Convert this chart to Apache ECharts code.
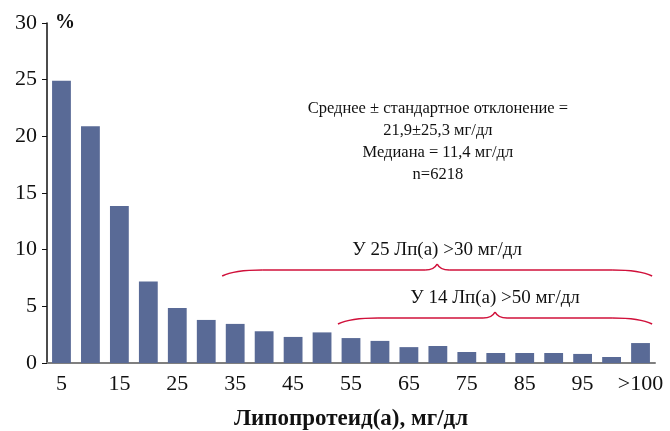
<!DOCTYPE html>
<html>
<head>
<meta charset="utf-8">
<script src="https://cdn.jsdelivr.net/npm/echarts@6/dist/echarts.min.js"></script>
<style>
    html, body { margin: 0; padding: 0; background: #fff; }
    #main { width: 670px; height: 431px; }
</style>
</head>
<body>
<div id="main"></div>
<script>
// данные
var categories = ['5', '10', '15', '20', '25', '30', '35', '40', '45', '50',
    '55', '60', '65', '70', '75', '80', '85', '90', '95', '100', '>100'];
var percents = [24.9, 20.9, 13.85, 7.2, 4.85, 3.8, 3.45, 2.8, 2.3, 2.7,
    2.2, 1.95, 1.4, 1.5, 0.97, 0.88, 0.88, 0.88, 0.8, 0.53, 1.76];
var yTicks = [0, 5, 10, 15, 20, 25, 30];
var statLines = ['Среднее ± стандартное отклонение =', '21,9±25,3 мг/дл', 'Медиана = 11,4 мг/дл', 'n=6218'];
var braces = [
    { from: 6, to: 20, text: 'У 25 Лп(а) >30 мг/дл', level: 8.2 },
    { from: 10, to: 20, text: 'У 14 Лп(а) >50 мг/дл', level: 4.0 }
];

var serif = '"Liberation Serif", "DejaVu Serif", serif';
var red = '#d0103a';

var myChart = echarts.init(document.getElementById('main'));
var option = {
    animation: false,
    grid: {
        left: 47,
        right: 15,
        top: 23,
        bottom: 68,
        outerBoundsMode: 'none',
        containLabel: false
    },
    xAxis: {
        type: 'category',
        data: categories,
        name: 'Липопротеид(а), мг/дл',
        nameLocation: 'middle',
        nameGap: 45,
        nameTextStyle: { fontFamily: serif, fontSize: 23, fontWeight: 'bold', color: '#111' },
        axisLine: { lineStyle: { color: '#7f7f7f', width: 2 } },
        axisTick: { show: false },
        axisLabel: {
            interval: 1,
            margin: 10,
            fontFamily: serif,
            fontSize: 22,
            color: '#111'
        }
    },
    yAxis: {
        type: 'value',
        min: 0,
        max: 30,
        interval: 5,
        name: '%',
        nameLocation: 'end',
        nameGap: 0,
        nameTextStyle: { fontFamily: serif, fontSize: 20, fontWeight: 'bold', color: '#111', align: 'left', padding: [0, 0, -10, 8] },
        splitLine: { show: false },
        axisLine: { show: true, lineStyle: { color: '#111', width: 1.5 } },
        axisTick: { show: true, length: 5, lineStyle: { color: '#111' } },
        axisLabel: {
            margin: 10,
            fontFamily: serif,
            fontSize: 22,
            color: '#111',
            formatter: function (v) { return yTicks.indexOf(v) >= 0 ? String(v) : ''; }
        }
    },
    series: [
        {
            type: 'bar',
            data: percents,
            barCategoryGap: '35%',
            itemStyle: { color: '#596a96' }
        }
    ]
};
myChart.setOption(option, true);

// фигурные скобки из кривых и отрезков
function braceParts(x0, x1, y, h) {
    var xm = (x0 + x1) / 2;
    var top = y - 6;
    var st = { stroke: red, lineWidth: 1.6, fill: null };
    return [
        { type: 'bezierCurve', shape: { x1: x0, y1: y + h, cpx1: x0 + 12, cpy1: y, x2: x0 + 40, y2: y }, style: st },
        { type: 'line', shape: { x1: x0 + 40, y1: y, x2: xm - 12, y2: y }, style: st },
        { type: 'bezierCurve', shape: { x1: xm - 12, y1: y, cpx1: xm - 3, cpy1: y, x2: xm, y2: top }, style: st },
        { type: 'bezierCurve', shape: { x1: xm, y1: top, cpx1: xm + 3, cpy1: y, x2: xm + 12, y2: y }, style: st },
        { type: 'line', shape: { x1: xm + 12, y1: y, x2: x1 - 40, y2: y }, style: st },
        { type: 'bezierCurve', shape: { x1: x1 - 40, y1: y, cpx1: x1 - 12, cpy1: y, x2: x1, y2: y + h }, style: st }
    ];
}

var graphics = [];
var barStep = myChart.convertToPixel({ xAxisIndex: 0 }, categories[1]) - myChart.convertToPixel({ xAxisIndex: 0 }, categories[0]);
braces.forEach(function (b) {
    var x0 = myChart.convertToPixel({ xAxisIndex: 0 }, categories[b.from]) - barStep * 0.45;
    var x1 = myChart.convertToPixel({ xAxisIndex: 0 }, categories[b.to]) + barStep * 0.4;
    var y = Math.round(myChart.convertToPixel({ yAxisIndex: 0 }, b.level));
    graphics = graphics.concat(braceParts(x0, x1, y, 6));
    graphics.push({
        type: 'text',
        x: (x0 + x1) / 2,
        y: y - 20,
        style: {
            text: b.text,
            fontFamily: serif,
            fontSize: 19,
            fill: '#111',
            align: 'center',
            verticalAlign: 'middle'
        }
    });
});

var statX = myChart.convertToPixel({ xAxisIndex: 0 }, categories[13]);
var statY = myChart.convertToPixel({ yAxisIndex: 0 }, 23.4);
graphics.push({
    type: 'text',
    x: statX,
    y: statY,
    style: {
        text: statLines.join('\n'),
        fontFamily: serif,
        fontSize: 16.5,
        lineHeight: 22,
        fill: '#111',
        align: 'center',
        verticalAlign: 'top'
    }
});

myChart.setOption({ graphic: graphics });
</script>
</body>
</html>
